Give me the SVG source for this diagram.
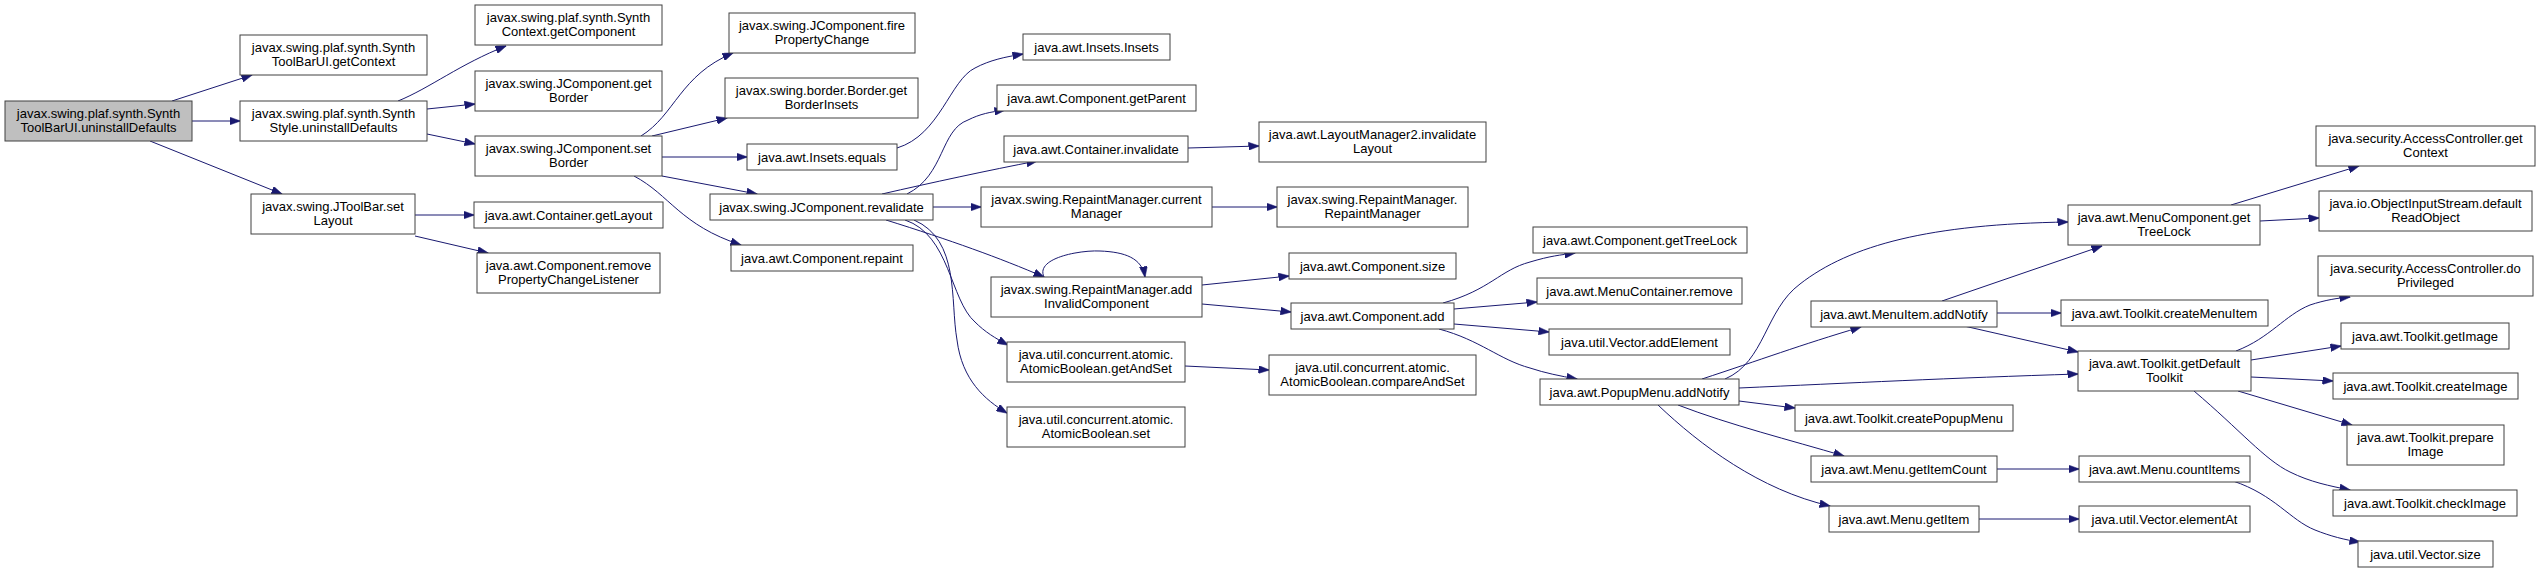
<svg xmlns="http://www.w3.org/2000/svg" width="2540" height="573" viewBox="0 0 2540 573">
<style>
rect{fill:#ffffff;stroke:#404040;stroke-width:1}
rect.root{fill:#bfbfbf}
text{font-family:"Liberation Sans",Arial,sans-serif;font-size:13px;text-anchor:middle;fill:#000000}
#edges path{fill:none;stroke:#191970;stroke-width:1;marker-end:url(#ah)}
</style>
<defs>
<marker id="ah" markerWidth="11" markerHeight="8" refX="10.5" refY="4" orient="auto" markerUnits="userSpaceOnUse">
<path d="M0,0 L11,4 L0,8 z" fill="#191970" stroke="#191970" stroke-width="0.5"/>
</marker>
</defs>
<rect x="0" y="0" width="2540" height="573" style="fill:#ffffff;stroke:none"/>
<g id="edges">
<path d="M172,101 L252,75"/>
<path d="M192,121 L240,121"/>
<path d="M150,141 L282,194"/>
<path d="M398,101 C430,88 460,64 506,46"/>
<path d="M427,109 L475,104"/>
<path d="M427,134 L475,144"/>
<path d="M641,136 C675,115 680,75 733,53"/>
<path d="M652,136 L727,118"/>
<path d="M662,157 L747,157"/>
<path d="M662,176 L757,194"/>
<path d="M634,176 C670,195 680,225 741,245"/>
<path d="M415,215 L474,215"/>
<path d="M415,236 L488,253"/>
<path d="M897,148 C940,135 950,80 975,68 C990,60 1005,57 1023,54"/>
<path d="M907,194 C945,175 940,130 968,120 C980,114 990,112 1005,110"/>
<path d="M882,194 C930,183 990,170 1037,161"/>
<path d="M933,207 L981,207"/>
<path d="M886,220 C950,240 1000,258 1044,277"/>
<path d="M905,220 C950,235 950,300 975,322 C985,332 995,338 1008,345"/>
<path d="M914,220 C960,240 950,300 957,340 C962,380 985,400 1007,413"/>
<path d="M1188,148 L1259,146"/>
<path d="M1212,207 L1277,207"/>
<path d="M1044,277 C1035,258 1080,250 1100,251 C1125,252 1142,258 1145,277"/>
<path d="M1202,285 L1289,276"/>
<path d="M1202,304 L1291,312"/>
<path d="M1185,366 L1269,370"/>
<path d="M1443,303 C1490,290 1500,270 1530,262 C1550,256 1560,255 1575,253"/>
<path d="M1454,309 L1537,302"/>
<path d="M1454,324 L1549,332"/>
<path d="M1439,329 C1480,340 1500,360 1530,368 C1545,373 1560,376 1577,379"/>
<path d="M1725,379 C1765,362 1765,310 1800,284 C1850,245 1930,224 2068,222"/>
<path d="M1702,379 C1760,360 1800,345 1861,327"/>
<path d="M1739,388 C1850,383 1950,378 2078,374"/>
<path d="M1739,401 L1795,408"/>
<path d="M1678,405 C1730,425 1790,440 1844,456"/>
<path d="M1658,405 C1700,445 1760,490 1830,506"/>
<path d="M1942,301 L2102,246"/>
<path d="M1997,313 L2061,313"/>
<path d="M1964,326 L2078,352"/>
<path d="M2231,205 L2359,166"/>
<path d="M2260,221 L2319,218"/>
<path d="M2236,351 C2270,338 2285,315 2310,305 C2325,300 2338,298 2350,297"/>
<path d="M2251,360 L2341,346"/>
<path d="M2251,377 L2333,381"/>
<path d="M2238,391 L2352,425"/>
<path d="M2194,391 C2240,430 2265,460 2290,472 C2310,482 2330,486 2350,490"/>
<path d="M1997,469 L2079,469"/>
<path d="M2233,481 C2275,495 2290,520 2315,530 C2330,536 2345,540 2360,542"/>
<path d="M1979,519 L2079,519"/>
</g>
<g id="n_root"><rect class="root" x="5" y="101" width="187" height="40"/><text x="98.5" y="118">javax.swing.plaf.synth.Synth</text><text x="98.5" y="132">ToolBarUI.uninstallDefaults</text></g>
<g id="n_getContext"><rect x="240" y="35" width="187" height="40"/><text x="333.5" y="52">javax.swing.plaf.synth.Synth</text><text x="333.5" y="66">ToolBarUI.getContext</text></g>
<g id="n_styleUninstall"><rect x="240" y="101" width="187" height="40"/><text x="333.5" y="118">javax.swing.plaf.synth.Synth</text><text x="333.5" y="132">Style.uninstallDefaults</text></g>
<g id="n_setLayout"><rect x="251" y="194" width="164" height="40"/><text x="333" y="211">javax.swing.JToolBar.set</text><text x="333" y="225">Layout</text></g>
<g id="n_getComponent"><rect x="475" y="5" width="187" height="40"/><text x="568.5" y="22">javax.swing.plaf.synth.Synth</text><text x="568.5" y="36">Context.getComponent</text></g>
<g id="n_getBorder"><rect x="475" y="71" width="187" height="40"/><text x="568.5" y="88">javax.swing.JComponent.get</text><text x="568.5" y="102">Border</text></g>
<g id="n_setBorder"><rect x="475" y="136" width="187" height="40"/><text x="568.5" y="153">javax.swing.JComponent.set</text><text x="568.5" y="167">Border</text></g>
<g id="n_getLayout"><rect x="474" y="202" width="189" height="26"/><text x="568.5" y="219.5">java.awt.Container.getLayout</text></g>
<g id="n_removePCL"><rect x="477" y="253" width="183" height="40"/><text x="568.5" y="270">java.awt.Component.remove</text><text x="568.5" y="284">PropertyChangeListener</text></g>
<g id="n_firePC"><rect x="729" y="13" width="186" height="40"/><text x="822" y="30">javax.swing.JComponent.fire</text><text x="822" y="44">PropertyChange</text></g>
<g id="n_getBorderInsets"><rect x="725" y="78" width="193" height="40"/><text x="821.5" y="95">javax.swing.border.Border.get</text><text x="821.5" y="109">BorderInsets</text></g>
<g id="n_insetsEquals"><rect x="747" y="144" width="150" height="26"/><text x="822" y="161.5">java.awt.Insets.equals</text></g>
<g id="n_revalidate"><rect x="710" y="194" width="223" height="26"/><text x="821.5" y="211.5">javax.swing.JComponent.revalidate</text></g>
<g id="n_repaint"><rect x="731" y="245" width="182" height="26"/><text x="822" y="262.5">java.awt.Component.repaint</text></g>
<g id="n_insetsInsets"><rect x="1023" y="34" width="147" height="26"/><text x="1096.5" y="51.5">java.awt.Insets.Insets</text></g>
<g id="n_getParent"><rect x="997" y="85" width="199" height="26"/><text x="1096.5" y="102.5">java.awt.Component.getParent</text></g>
<g id="n_containerInvalidate"><rect x="1004" y="136" width="184" height="26"/><text x="1096" y="153.5">java.awt.Container.invalidate</text></g>
<g id="n_currentManager"><rect x="981" y="187" width="231" height="40"/><text x="1096.5" y="204">javax.swing.RepaintManager.current</text><text x="1096.5" y="218">Manager</text></g>
<g id="n_addInvalid"><rect x="991" y="277" width="211" height="40"/><text x="1096.5" y="294">javax.swing.RepaintManager.add</text><text x="1096.5" y="308">InvalidComponent</text></g>
<g id="n_getAndSet"><rect x="1007" y="342" width="178" height="40"/><text x="1096" y="359">java.util.concurrent.atomic.</text><text x="1096" y="373">AtomicBoolean.getAndSet</text></g>
<g id="n_abSet"><rect x="1007" y="407" width="178" height="40"/><text x="1096" y="424">java.util.concurrent.atomic.</text><text x="1096" y="438">AtomicBoolean.set</text></g>
<g id="n_invalidateLayout"><rect x="1259" y="122" width="227" height="40"/><text x="1372.5" y="139">java.awt.LayoutManager2.invalidate</text><text x="1372.5" y="153">Layout</text></g>
<g id="n_rmCtor"><rect x="1277" y="187" width="191" height="40"/><text x="1372.5" y="204">javax.swing.RepaintManager.</text><text x="1372.5" y="218">RepaintManager</text></g>
<g id="n_size"><rect x="1289" y="253" width="167" height="26"/><text x="1372.5" y="270.5">java.awt.Component.size</text></g>
<g id="n_add"><rect x="1291" y="303" width="163" height="26"/><text x="1372.5" y="320.5">java.awt.Component.add</text></g>
<g id="n_compareAndSet"><rect x="1269" y="355" width="207" height="40"/><text x="1372.5" y="372">java.util.concurrent.atomic.</text><text x="1372.5" y="386">AtomicBoolean.compareAndSet</text></g>
<g id="n_compTreeLock"><rect x="1533" y="227" width="214" height="26"/><text x="1640" y="244.5">java.awt.Component.getTreeLock</text></g>
<g id="n_mcRemove"><rect x="1537" y="278" width="205" height="26"/><text x="1639.5" y="295.5">java.awt.MenuContainer.remove</text></g>
<g id="n_addElement"><rect x="1549" y="329" width="181" height="26"/><text x="1639.5" y="346.5">java.util.Vector.addElement</text></g>
<g id="n_popupAddNotify"><rect x="1540" y="379" width="199" height="26"/><text x="1639.5" y="396.5">java.awt.PopupMenu.addNotify</text></g>
<g id="n_menuItemAddNotify"><rect x="1811" y="301" width="186" height="26"/><text x="1904" y="318.5">java.awt.MenuItem.addNotify</text></g>
<g id="n_createPopupMenu"><rect x="1795" y="405" width="218" height="26"/><text x="1904" y="422.5">java.awt.Toolkit.createPopupMenu</text></g>
<g id="n_getItemCount"><rect x="1811" y="456" width="186" height="26"/><text x="1904" y="473.5">java.awt.Menu.getItemCount</text></g>
<g id="n_getItem"><rect x="1829" y="506" width="150" height="26"/><text x="1904" y="523.5">java.awt.Menu.getItem</text></g>
<g id="n_mcTreeLock"><rect x="2068" y="205" width="192" height="40"/><text x="2164" y="222">java.awt.MenuComponent.get</text><text x="2164" y="236">TreeLock</text></g>
<g id="n_createMenuItem"><rect x="2061" y="300" width="207" height="26"/><text x="2164.5" y="317.5">java.awt.Toolkit.createMenuItem</text></g>
<g id="n_defaultToolkit"><rect x="2078" y="351" width="173" height="40"/><text x="2164.5" y="368">java.awt.Toolkit.getDefault</text><text x="2164.5" y="382">Toolkit</text></g>
<g id="n_countItems"><rect x="2079" y="456" width="171" height="26"/><text x="2164.5" y="473.5">java.awt.Menu.countItems</text></g>
<g id="n_elementAt"><rect x="2079" y="506" width="171" height="26"/><text x="2164.5" y="523.5">java.util.Vector.elementAt</text></g>
<g id="n_acGetContext"><rect x="2316" y="126" width="219" height="40"/><text x="2425.5" y="143">java.security.AccessController.get</text><text x="2425.5" y="157">Context</text></g>
<g id="n_defaultReadObject"><rect x="2319" y="191" width="213" height="40"/><text x="2425.5" y="208">java.io.ObjectInputStream.default</text><text x="2425.5" y="222">ReadObject</text></g>
<g id="n_doPrivileged"><rect x="2318" y="256" width="215" height="40"/><text x="2425.5" y="273">java.security.AccessController.do</text><text x="2425.5" y="287">Privileged</text></g>
<g id="n_getImage"><rect x="2341" y="323" width="168" height="26"/><text x="2425" y="340.5">java.awt.Toolkit.getImage</text></g>
<g id="n_createImage"><rect x="2333" y="373" width="185" height="26"/><text x="2425.5" y="390.5">java.awt.Toolkit.createImage</text></g>
<g id="n_prepareImage"><rect x="2347" y="425" width="157" height="40"/><text x="2425.5" y="442">java.awt.Toolkit.prepare</text><text x="2425.5" y="456">Image</text></g>
<g id="n_checkImage"><rect x="2333" y="490" width="184" height="26"/><text x="2425" y="507.5">java.awt.Toolkit.checkImage</text></g>
<g id="n_vectorSize"><rect x="2358" y="541" width="135" height="26"/><text x="2425.5" y="558.5">java.util.Vector.size</text></g>
</svg>
